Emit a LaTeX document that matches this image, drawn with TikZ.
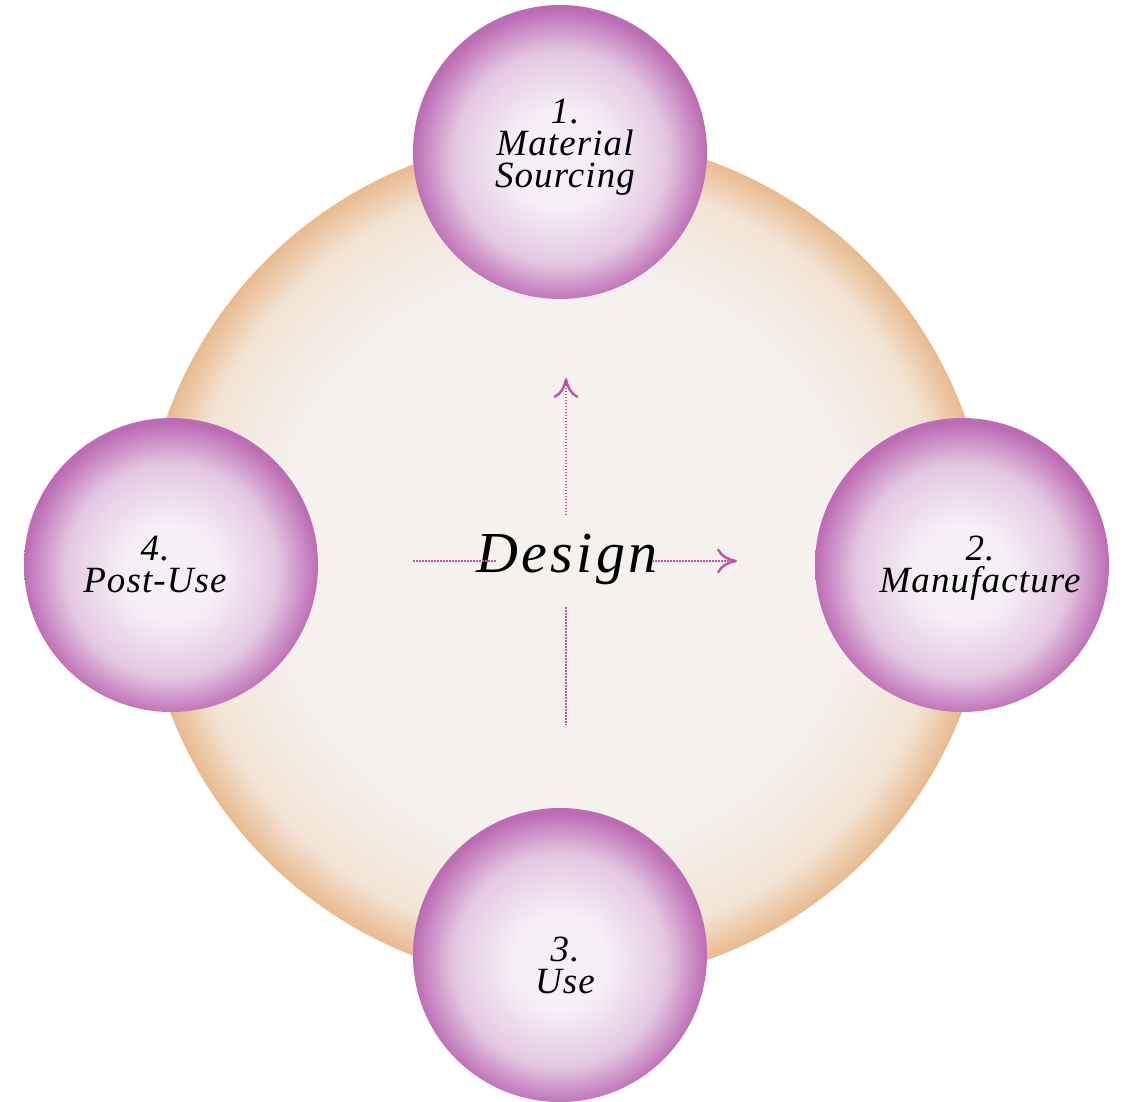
\documentclass[tikz,border=0pt]{standalone}
\usepackage{fontspec}
\setmainfont{Liberation Serif}
\usetikzlibrary{arrows.meta}
\definecolor{pcenter}{RGB}{245,240,245}
\definecolor{pmid}{RGB}{228,200,226}
\definecolor{pedge}{RGB}{188,108,180}
\definecolor{bcenter}{RGB}{244,241,238}
\definecolor{bmid}{RGB}{243,228,212}
\definecolor{bedge}{RGB}{232,186,142}
\definecolor{arrowcol}{RGB}{192,80,168}
\pgfdeclareradialshading{purpball}{\pgfpoint{0bp}{-1.5bp}}{color(0bp)=(pcenter); color(8bp)=(pcenter); color(18bp)=(pmid); color(25bp)=(pedge); color(50bp)=(pedge)}
\pgfdeclareradialshading{peachball}{\pgfpoint{0bp}{0bp}}{color(0bp)=(bcenter); color(17bp)=(bcenter); color(22.5bp)=(bmid); color(25bp)=(bedge); color(50bp)=(bedge)}
\tikzset{
  stageball/.style={circle, minimum size=294pt, inner sep=0pt, shading=purpball},
  stagetext/.style={font=\fontsize{37}{32}\selectfont\itshape\addfontfeature{LetterSpace=3}, align=center, text=black, inner sep=0pt, anchor=base},
  flowline/.style={draw=arrowcol, line width=2pt, dash pattern=on 1.5pt off 1.5pt},
  flowtip/.style={-{Computer Modern Rightarrow[length=20pt,width=25pt,line width=2.4pt]}},
}
\begin{document}
\begin{tikzpicture}[x=1pt,y=-1pt]
\useasboundingbox (0,0) rectangle (1124,1102);
\node[circle, minimum size=848pt, inner sep=0pt, shading=peachball] (hub) at (566,560) {};
\node[stageball] (s1) at (560,152) {};
\node[stageball] (s2) at (962,565) {};
\node[stageball] (s3) at (560,955) {};
\node[stageball] (s4) at (171,565) {};
\node[stagetext] (t1) at (565,188) {1.\\Material\\Sourcing};
\node[stagetext] (t2) at (980,592) {2.\\Manufacture};
\node[stagetext] (t3) at (565,993) {3.\\Use};
\node[stagetext] (t4) at (155,592) {4.\\Post-Use};
\node[font=\fontsize{58}{60}\selectfont\itshape\addfontfeature{LetterSpace=6}, inner sep=0pt, anchor=base] (design) at (567,572) {Design};
\coordinate (upS) at (566,515);
\coordinate (upE) at (566,378);
\coordinate (dnS) at (566,607);
\coordinate (dnE) at (566,725);
\coordinate (lfS) at (413,561);
\coordinate (lfE) at (496,561);
\coordinate (rtS) at (652,561);
\coordinate (rtE) at (737,561);
\draw[flowline, flowtip] (upS) -- (upE);
\draw[flowline] (dnS) -- (dnE);
\draw[flowline] (lfS) -- (lfE);
\draw[flowline, flowtip] (rtS) -- (rtE);
\end{tikzpicture}
\end{document}
